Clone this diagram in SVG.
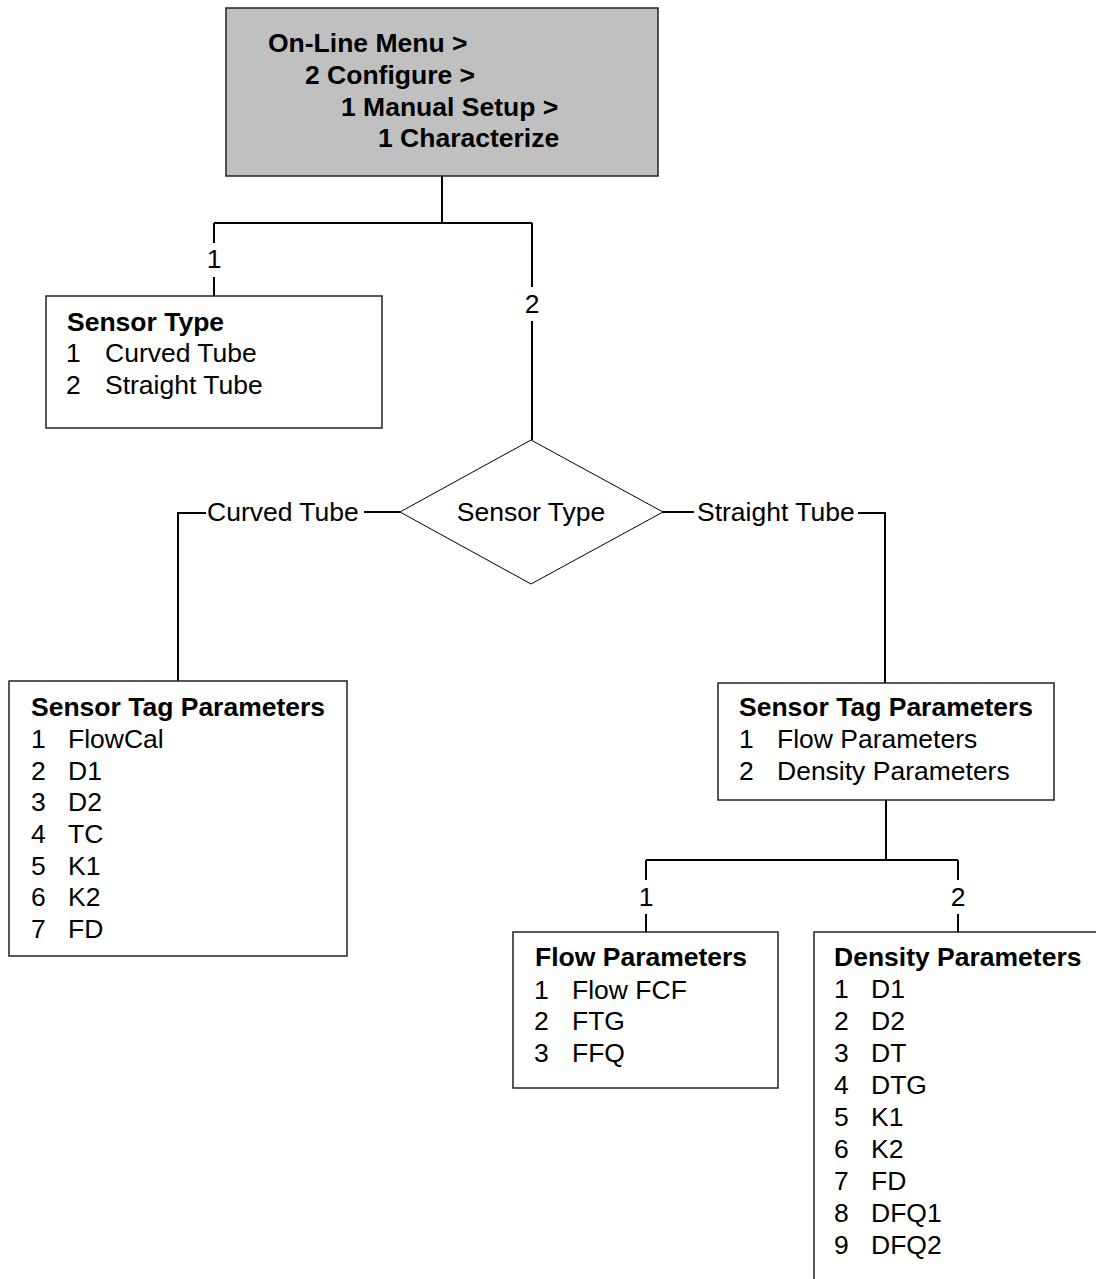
<svg xmlns="http://www.w3.org/2000/svg" width="1096" height="1279" viewBox="0 0 1096 1279">
<style>
text{font-family:"Liberation Sans",Arial,sans-serif;font-size:26.5px;fill:#000}
.b{font-weight:bold}
.box{fill:#fff;stroke:#222;stroke-width:1.5}
.conn{fill:none;stroke:#000;stroke-width:2}
</style>
<rect width="1096" height="1279" fill="#fff"/>
<g id="connectors" class="conn">
<path d="M442 176V223M214 223H532M214 223V243M214 277V296M532 223V287M532 321V440"/>
<path d="M400 512H364M206 513H178V681"/>
<path d="M663 512H694M858 513H885V683"/>
<path d="M886 800V860M646 860H958M646 860V880M646 914V932M958 860V880M958 914V932"/>
</g>
<g id="labels">
<text x="214" y="268" text-anchor="middle">1</text>
<text x="532" y="313" text-anchor="middle">2</text>
<text x="207" y="521">Curved Tube</text>
<text x="697" y="521">Straight Tube</text>
<text x="646" y="906" text-anchor="middle">1</text>
<text x="958" y="906" text-anchor="middle">2</text>
</g>
<g id="root">
<rect x="226" y="8" width="432" height="168" fill="#c0c0c0" stroke="#222" stroke-width="1.5"/>
<text class="b" x="268" y="52">On-Line Menu &gt;</text>
<text class="b" x="305" y="84">2 Configure &gt;</text>
<text class="b" x="341" y="116">1 Manual Setup &gt;</text>
<text class="b" x="378" y="147">1 Characterize</text>
</g>
<g id="sensor-type">
<rect class="box" x="46" y="296" width="336" height="132"/>
<text class="b" x="67" y="331">Sensor Type</text>
<text x="66" y="362">1</text><text x="105" y="362">Curved Tube</text>
<text x="66" y="394">2</text><text x="105" y="394">Straight Tube</text>
</g>
<g id="decision">
<polygon points="531,440 663,512 531,584 400,512" fill="#fff" stroke="#000" stroke-width="1"/>
<text x="531" y="521" text-anchor="middle">Sensor Type</text>
</g>
<g id="tag-curved">
<rect class="box" x="9" y="681" width="338" height="275"/>
<text class="b" x="31" y="716">Sensor Tag Parameters</text>
<text x="31" y="748">1</text><text x="68" y="748">FlowCal</text>
<text x="31" y="780">2</text><text x="68" y="780">D1</text>
<text x="31" y="811">3</text><text x="68" y="811">D2</text>
<text x="31" y="843">4</text><text x="68" y="843">TC</text>
<text x="31" y="875">5</text><text x="68" y="875">K1</text>
<text x="31" y="906">6</text><text x="68" y="906">K2</text>
<text x="31" y="938">7</text><text x="68" y="938">FD</text>
</g>
<g id="tag-straight">
<rect class="box" x="718" y="683" width="336" height="117"/>
<text class="b" x="739" y="716">Sensor Tag Parameters</text>
<text x="739" y="748">1</text><text x="777" y="748">Flow Parameters</text>
<text x="739" y="780">2</text><text x="777" y="780">Density Parameters</text>
</g>
<g id="flow-params">
<rect class="box" x="513" y="932" width="265" height="156"/>
<text class="b" x="535" y="966">Flow Parameters</text>
<text x="534" y="999">1</text><text x="572" y="999">Flow FCF</text>
<text x="534" y="1030">2</text><text x="572" y="1030">FTG</text>
<text x="534" y="1062">3</text><text x="572" y="1062">FFQ</text>
</g>
<g id="density-params">
<rect class="box" x="814" y="932" width="320" height="400"/>
<text class="b" x="834" y="966">Density Parameters</text>
<text x="834" y="998">1</text><text x="871" y="998">D1</text>
<text x="834" y="1030">2</text><text x="871" y="1030">D2</text>
<text x="834" y="1062">3</text><text x="871" y="1062">DT</text>
<text x="834" y="1094">4</text><text x="871" y="1094">DTG</text>
<text x="834" y="1126">5</text><text x="871" y="1126">K1</text>
<text x="834" y="1158">6</text><text x="871" y="1158">K2</text>
<text x="834" y="1190">7</text><text x="871" y="1190">FD</text>
<text x="834" y="1222">8</text><text x="871" y="1222">DFQ1</text>
<text x="834" y="1254">9</text><text x="871" y="1254">DFQ2</text>
</g>
</svg>
